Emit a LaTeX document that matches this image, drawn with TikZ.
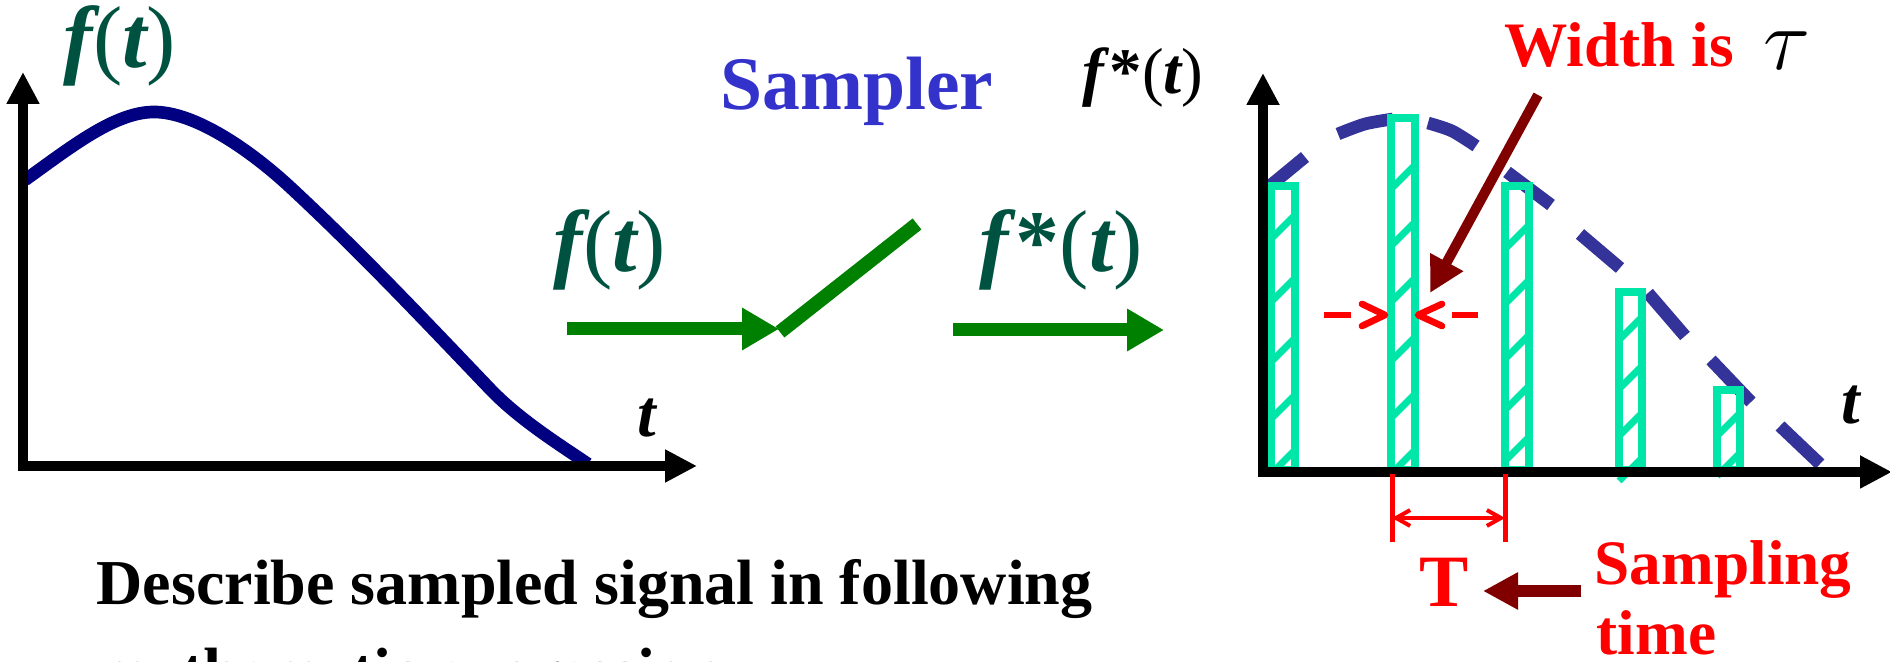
\documentclass[tikz,border=0pt]{standalone}
\usepackage{fontspec}
\setmainfont{Liberation Serif}
\usetikzlibrary{arrows.meta}
\definecolor{dgreen}{RGB}{0,82,64}
\definecolor{agreen}{RGB}{0,128,0}
\definecolor{navyc}{RGB}{0,0,128}
\definecolor{dashblue}{RGB}{51,51,153}
\definecolor{barcol}{RGB}{0,230,168}
\definecolor{sblue}{RGB}{51,51,204}
\definecolor{dred}{RGB}{128,0,0}
\definecolor{rred}{RGB}{255,0,0}
\newcommand\BI[1]{{\bfseries\itshape #1}}
\newcommand\FS[1]{\fontsize{#1}{#1}\selectfont}
\begin{document}
\begin{tikzpicture}[x=0.01cm,y=-0.01cm,
  axisline/.style={line width=2.85pt,-{Triangle[length=9.1pt,width=8.8pt]}},
  lbl/.style={inner sep=0pt,anchor=base},
  lblw/.style={inner sep=0pt,anchor=base west},
  garrow/.style={agreen,line width=3.7pt,-{Triangle[length=10.5pt,width=11.4pt]}},
  barline/.style={barcol,line width=2pt},
  dashseg/.style={dashblue,line width=3.6pt},
  redchev/.style={rred,line width=1.9pt,line cap=round,line join=round},
  reddash/.style={rred,line width=1.6pt},
  bigarrow/.style={dred,-{Triangle[length=10pt,width=10pt]}}]
\useasboundingbox (0,0) rectangle (1890,662);

% ---------- left graph ----------
\draw[navyc,line width=3.6pt] (25,180) .. controls (71,147) and (115,112) .. (154,112)
  .. controls (195,112) and (250,150) .. (290,187)
  .. controls (360,252) and (426,322) .. (491,390)
  .. controls (520,420) and (560,445) .. (588,464);
\coordinate (LO) at (23,466);
\coordinate (LY) at (23,72);
\coordinate (LX) at (697,466);
\draw[axisline] (23,471) -- (LY);
\draw[axisline] (18,466) -- (LX);
\node[lbl,text=dgreen,font=\FS{25}] (fL) at (120,68) {\BI{f}(\BI{t})};
\node[lbl,font=\FS{19}] (tL) at (647,437) {\BI{t}};

% ---------- sampler ----------
\node[lbl,text=sblue,font=\FS{21.5}\bfseries] (samp) at (857,110) {Sampler};
\node[lbl,text=dgreen,font=\FS{25}] (fin) at (610,272) {\BI{f}(\BI{t})};
\node[lbl,text=dgreen,font=\FS{25}] (fout) at (1061,272) {\BI{f}\textbf{*}(\BI{t})};
\coordinate (a1s) at (567,329);
\coordinate (sw1) at (779,329);
\coordinate (sw0) at (780,332);
\coordinate (sw2) at (917,224);
\coordinate (a2s) at (953,330);
\coordinate (a2e) at (1164,330);
\draw[garrow] (a1s) -- (sw1);
\draw[agreen,line width=4pt] (sw0) -- (sw2);
\draw[garrow] (a2s) -- (a2e);

% ---------- right graph ----------
% dashed envelope
\draw[dashseg] (1265,190) -- (1305,157);
\draw[dashseg] plot[smooth] coordinates {(1338,134) (1365,124) (1393,119)};
\draw[dashseg] plot[smooth] coordinates {(1428,123) (1452,131) (1476,146)};
\draw[dashseg] (1507,172) -- (1551,205);
\draw[dashseg] (1580,234) -- (1620,268);
\draw[dashseg] (1648,293) -- (1685,336);
\draw[dashseg] (1711,360) -- (1751,402);
\draw[dashseg] (1780,426) -- (1820,464);

% sample pulses
\newcommand\mybar[4]{%
  \draw[barline] (#1,470) rectangle (#2,#3);
  \foreach \yy in {#4} {\draw[barline] (#1,\yy+#2-#1) -- (#2,\yy);}}
\mybar{1271}{1295}{186}{215,278,338,395,450}
\mybar{1391}{1415}{118}{165,222,278,337,394,450}
\mybar{1505}{1529}{186}{225,280,335,386,437}
\mybar{1619}{1642}{292}{317,366,413,458}
\mybar{1717}{1740}{390}{413,453}

\coordinate (RY) at (1263,73);
\coordinate (RX) at (1892,472);
\draw[axisline] (1263,477) -- (RY);
\draw[axisline] (1258,472) -- (RX);
\node[lbl,font=\FS{18.5}] (fsr) at (1143,94) {\BI{f}\textbf{*}(\BI{t})};
\node[lbl,font=\FS{19}] (tR) at (1851,424) {\BI{t}};

% width tau
\node[lblw,text=rred,font=\FS{18}\bfseries] (wid) at (1504,67) {Width is};
\node[lblw,font=\FS{26}] (tau) at (1763,70) {$\tau$};
\coordinate (wp) at (1538,95);
\coordinate (wt) at (1430,293);
\draw[bigarrow,line width=2.85pt] (wp) -- (wt);
\draw[reddash] (1324,315) -- (1351,315);
\draw[redchev] (1362,304) -- (1385,315) -- (1362,326);
\draw[redchev] (1442,304) -- (1418,315) -- (1442,326);
\draw[reddash] (1452,315) -- (1478,315);

% sampling period T
\coordinate (k1a) at (1392,474); \coordinate (k1b) at (1392,542);
\coordinate (k2a) at (1505,474); \coordinate (k2b) at (1505,542);
\draw[rred,line width=1.42pt] (k1a) -- (k1b);
\draw[rred,line width=1.42pt] (k2a) -- (k2b);
\draw[rred,line width=1.14pt,{Straight Barb[length=4pt,width=4.5pt]}-{Straight Barb[length=4pt,width=4.5pt]}] (1392,518) -- (1505,518);
\node[lbl,text=rred,font=\FS{21}\bfseries] (T) at (1444,607) {T};
\node[lblw,text=rred,font=\FS{18}\bfseries] (s1) at (1594,585) {Sampling};
\node[lblw,text=rred,font=\FS{18}\bfseries] (s2) at (1596,655) {time};
\coordinate (ta) at (1581,591);
\coordinate (tb) at (1483,591);
\draw[bigarrow,line width=3.4pt] (ta) -- (tb);

% bottom text
\node[lblw,font=\FS{18.2}\bfseries] (d1) at (96,605) {Describe sampled signal in following};
\node[lblw,font=\FS{18.2}\bfseries] (d2) at (96,693) {mathematic expression};
\end{tikzpicture}
\end{document}
